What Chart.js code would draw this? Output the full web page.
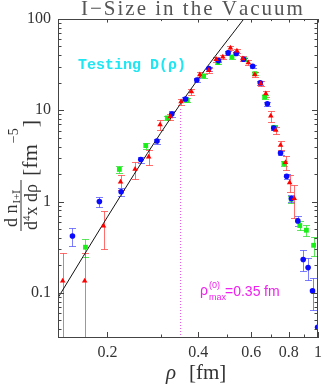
<!DOCTYPE html>
<html>
<head>
<meta charset="utf-8">
<script src="https://cdn.jsdelivr.net/npm/chart.js@4.4.1/dist/chart.umd.min.js"></script>
<style>
  html, body { margin: 0; padding: 0; background: #fff; }
</style>
</head>
<body>
<canvas id="chart" width="327" height="385"></canvas>
<script>
// ---- values ----
const redRho = [0.142, 0.168, 0.194, 0.221, 0.247, 0.274, 0.299, 0.323, 0.351, 0.380, 0.405, 0.434, 0.459, 0.483, 0.512, 0.538, 0.563, 0.587, 0.617, 0.645, 0.671, 0.697, 0.724, 0.751, 0.780, 0.805, 0.834];
const redVal = [0.135, 0.135, 0.54, 1.64, 2.26, 3.08, 6.97, 8.53, 12.4, 16.0, 24.6, 27.4, 36.2, 38.4, 48.1, 44.7, 36.8, 33.3, 24.6, 19.6, 15.2, 8.67, 6.04, 4.14, 2.68, 1.61, 1.08];
const redErr = [0.135, 0.135, 0.24, 0.30, 0.48, 0.57, 0.90, 0.65, 1.0, 1.2, 1.6, 1.8, 2.2, 2.4, 2.6, 2.5, 2.2, 2.0, 1.6, 1.3, 1.2, 1.15, 0.55, 0.45, 0.45, 0.35, 0.42];

const blueRho = [0.153, 0.188, 0.222, 0.258, 0.292, 0.327, 0.363, 0.396, 0.434, 0.467, 0.503, 0.535, 0.566, 0.607, 0.643, 0.679, 0.713, 0.751, 0.787, 0.816, 0.857, 0.893, 0.927, 0.959, 0.997];
const blueVal = [0.42, 1.0, 1.28, 2.88, 4.6, 9.1, 13.3, 21.5, 28.6, 35.0, 42.5, 41.9, 36.2, 30.3, 20.0, 11.8, 6.4, 3.4, 1.89, 1.08, 0.614, 0.232, 0.189, 0.105, 0.042];
const blueErr = [0.09, 0.13, 0.13, 0.22, 0.3, 0.6, 0.8, 1.2, 1.4, 1.6, 1.8, 1.8, 1.6, 1.4, 1.0, 0.6, 0.35, 0.2, 0.12, 0.1, 0.08, 0.06, 0.05, 0.04, 0.038];

const greenRho = [0.169, 0.219, 0.268, 0.316, 0.368, 0.417, 0.465, 0.518, 0.570, 0.617, 0.665, 0.715, 0.771, 0.815, 0.870, 0.915, 0.967];
const greenVal = [0.316, 2.25, 4.1, 8.24, 12.9, 23.8, 33.3, 38.4, 35.9, 25.2, 14.0, 6.5, 2.61, 1.06, 0.546, 0.485, 0.332];
const greenErr = [0.07, 0.2, 0.3, 0.4, 0.6, 1.0, 1.4, 1.5, 1.4, 1.0, 0.7, 0.35, 0.15, 0.1, 0.06, 0.07, 0.08];

// small-size curve (black line), read at a few points
const fitRho = [0.1375, 0.2, 0.3, 0.4, 0.567];
const fitVal = [0.09, 0.68, 5.6, 22, 100];

// rho_max marker (dotted line)
const rhoMax = 0.35;
const rhoMaxTop = 10.6;

const xMin = 0.137, xMax = 1;
const yMin = 0.032, yMax = 100;
const xTickValues = [0.2, 0.4, 0.6, 0.8, 1];
const xTickLabels = ["0.2", "0.4", "0.6", "0.8", "1"];
const xMinorTicks = [0.3, 0.5, 0.7, 0.9];
const yTickValues = [0.1, 1, 10, 100];
const yTickLabels = ["0.1", "1", "10", "100"];

const SERIF = '"Liberation Serif", "Times New Roman", serif';
const SANS = '"Liberation Sans", Arial, sans-serif';

const SERIES = [
  { rho: greenRho, val: greenVal, err: greenErr, errColor: "rgba(40,220,40,0.75)" },
  { rho: blueRho, val: blueVal, err: blueErr, errColor: "rgba(70,70,255,0.7)" },
  { rho: redRho, val: redVal, err: redErr, errColor: "rgba(255,60,60,0.75)" },
];

const toPoints = (xs, ys) => xs.map((x, i) => ({ x, y: ys[i] }));

// error bars under the markers
const errorBars = {
  id: "errorBars",
  beforeDatasetsDraw(chart) {
    const { ctx, chartArea: a, scales: { x, y } } = chart;
    ctx.save();
    ctx.beginPath();
    ctx.rect(a.left, a.top, a.right - a.left, a.bottom - a.top);
    ctx.clip();
    ctx.lineWidth = 1;
    SERIES.forEach((s) => {
      ctx.strokeStyle = s.errColor;
      s.rho.forEach((r, i) => {
        const px = Math.round(x.getPixelForValue(r)) + 0.5;
        const hi = s.val[i] + s.err[i];
        const lo = s.val[i] - s.err[i];
        const yTop = Math.round(y.getPixelForValue(hi)) + 0.5;
        const yBot = lo > 0 ? Math.round(y.getPixelForValue(lo)) + 0.5 : a.bottom + 5;
        ctx.beginPath();
        ctx.moveTo(px, yTop);
        ctx.lineTo(px, yBot);
        ctx.moveTo(px - 3.5, yTop);
        ctx.lineTo(px + 3.5, yTop);
        if (lo > 0) {
          ctx.moveTo(px - 3.5, yBot);
          ctx.lineTo(px + 3.5, yBot);
        }
        ctx.stroke();
      });
    });
    ctx.restore();
  },
};

// frame + inward ticks on all sides
const frame = {
  id: "frame",
  afterDatasetsDraw(chart) {
    const { ctx, chartArea: a, scales: { x, y } } = chart;
    ctx.save();
    ctx.strokeStyle = "#444";
    ctx.lineWidth = 1;
    ctx.strokeRect(Math.round(a.left) + 0.5, Math.round(a.top) + 0.5,
      Math.round(a.right - a.left) - 1, Math.round(a.bottom - a.top) - 1);

    const yTicks = [];
    [0.01, 0.1, 1, 10].forEach((d) => {
      for (let m = 1; m <= 9; m++) {
        const v = d * m;
        if (v >= yMin && v <= yMax) yTicks.push({ v, major: m === 1 });
      }
    });
    yTicks.push({ v: 100, major: true });
    ctx.beginPath();
    yTicks.forEach((t) => {
      const py = Math.round(y.getPixelForValue(t.v)) + 0.5;
      const len = t.major ? 6 : 3.5;
      ctx.moveTo(a.left, py);
      ctx.lineTo(a.left + len, py);
      ctx.moveTo(a.right, py);
      ctx.lineTo(a.right - len, py);
    });
    const xt = xTickValues.map((v) => ({ v, major: true }))
      .concat(xMinorTicks.map((v) => ({ v, major: false })));
    xt.forEach((t) => {
      const px = Math.round(x.getPixelForValue(t.v)) + 0.5;
      const len = t.major ? 6 : 3.5;
      ctx.moveTo(px, a.bottom);
      ctx.lineTo(px, a.bottom - len);
      ctx.moveTo(px, a.top);
      ctx.lineTo(px, a.top + len * 0.6);
    });
    ctx.stroke();
    ctx.restore();
  },
};

// title, annotations and axis titles
const texts = {
  id: "texts",
  afterDraw(chart) {
    const { ctx } = chart;
    ctx.save();
    ctx.textBaseline = "alphabetic";
    ctx.textAlign = "left";

    // title with wide letter spacing
    ctx.fillStyle = "#555";
    ctx.font = "21px " + SERIF;
    const title = "I\u2212Size in the Vacuum";
    let tx = 81;
    for (const ch of title) {
      ctx.fillText(ch, tx, 15);
      tx += ctx.measureText(ch).width + 2;
    }

    // Testing D(rho)
    ctx.fillStyle = "#1ee6f2";
    ctx.font = 'bold 15px "Liberation Mono", monospace';
    ctx.fillText("Testing D(\u03c1)", 78, 69);

    // rho_max annotation
    ctx.fillStyle = "#f020f0";
    ctx.font = "14px " + SANS;
    ctx.fillText("\u03c1", 200, 295);
    ctx.font = "9px " + SANS;
    ctx.fillText("(0)", 209, 288);
    ctx.fillText("max", 209, 300);
    ctx.font = "14px " + SANS;
    ctx.fillText("=0.35", 225, 296);
    ctx.fillText("fm", 264, 296);

    // x axis title
    ctx.fillStyle = "#333";
    ctx.font = "italic 21px " + SERIF;
    ctx.fillText("\u03c1", 166, 379);
    ctx.font = "21px " + SERIF;
    ctx.fillText("[fm]", 189, 379);

    // y axis title, rotated: (u, v) -> screen (v, -u)
    ctx.translate(0, 0);
    ctx.rotate(-Math.PI / 2);
    // numerator
    ctx.font = "18px " + SERIF;
    ctx.fillText("d n", -227, 17);
    let w = ctx.measureText("d n").width;
    ctx.font = "11px " + SERIF;
    ctx.fillText("I+\u012a", -227 + w + 1, 20);
    // fraction bar
    ctx.fillRect(-231, 20.5, 51, 1);
    // denominator
    ctx.font = "18px " + SERIF;
    let u = -230;
    ctx.fillText("d", u, 37);
    u += ctx.measureText("d").width;
    ctx.font = "11px " + SERIF;
    ctx.fillText("4", u, 30);
    u += ctx.measureText("4").width;
    ctx.font = "18px " + SERIF;
    ctx.fillText("x d\u03c1", u, 37);
    // units
    u = -176;
    ctx.font = "22px " + SERIF;
    ctx.fillText("[fm", u, 37);
    u += ctx.measureText("[fm").width + 1;
    ctx.font = "14px " + SERIF;
    ctx.fillText("\u22125", u, 18);
    u += ctx.measureText("\u22125").width + 1;
    ctx.font = "22px " + SERIF;
    ctx.fillText("]", u, 37);
    ctx.restore();
  },
};

const tickFont = { family: SERIF, size: 16 };

new Chart(document.getElementById("chart"), {
  type: "scatter",
  data: {
    datasets: [
      {
        label: "red",
        data: toPoints(redRho, redVal),
        pointStyle: "triangle",
        pointRadius: 3.2,
        backgroundColor: "#ff0000",
        borderColor: "#ff0000",
        borderWidth: 0,
        order: 0,
      },
      {
        label: "blue",
        data: toPoints(blueRho, blueVal),
        pointStyle: "circle",
        pointRadius: 2.8,
        backgroundColor: "#0a0aff",
        borderColor: "#0a0aff",
        borderWidth: 0,
        order: 1,
      },
      {
        label: "green",
        data: toPoints(greenRho, greenVal),
        pointStyle: "rect",
        pointRadius: 3.4,
        backgroundColor: "#18f018",
        borderColor: "#18f018",
        borderWidth: 0,
        order: 2,
      },
      {
        type: "line",
        label: "fit",
        data: toPoints(fitRho, fitVal),
        borderColor: "#111",
        borderWidth: 1,
        pointRadius: 0,
        tension: 0.4,
        cubicInterpolationMode: "monotone",
        clip: 0,
        order: 3,
      },
      {
        type: "line",
        label: "rho max",
        data: [{ x: rhoMax, y: yMin }, { x: rhoMax, y: rhoMaxTop }],
        borderColor: "#e040e0",
        borderWidth: 1,
        borderDash: [1, 2],
        pointRadius: 0,
        clip: 0,
        order: 4,
      },
    ],
  },
  options: {
    responsive: false,
    animation: false,
    layout: { padding: { top: 19, right: 4, left: 0, bottom: 0 } },
    plugins: {
      legend: { display: false },
      tooltip: { enabled: false },
      title: { display: false },
    },
    scales: {
      x: {
        type: "logarithmic",
        min: xMin,
        max: xMax,
        grid: { display: false, drawTicks: false },
        border: { display: false },
        afterBuildTicks: (s) => { s.ticks = xTickValues.map((v) => ({ value: v })); },
        afterFit: (s) => { s.height = 47; },
        ticks: {
          autoSkip: false,
          maxRotation: 0,
          padding: 5,
          color: "#333",
          font: tickFont,
          callback: (v, i) => xTickLabels[i],
        },
      },
      y: {
        type: "logarithmic",
        min: yMin,
        max: yMax,
        grid: { display: false, drawTicks: false },
        border: { display: false },
        afterBuildTicks: (s) => { s.ticks = yTickValues.map((v) => ({ value: v })); },
        afterFit: (s) => { s.width = 58; },
        ticks: {
          autoSkip: false,
          padding: 7,
          color: "#333",
          font: tickFont,
          callback: (v, i) => yTickLabels[i],
        },
      },
    },
  },
  plugins: [errorBars, frame, texts],
});
</script>
</body>
</html>
